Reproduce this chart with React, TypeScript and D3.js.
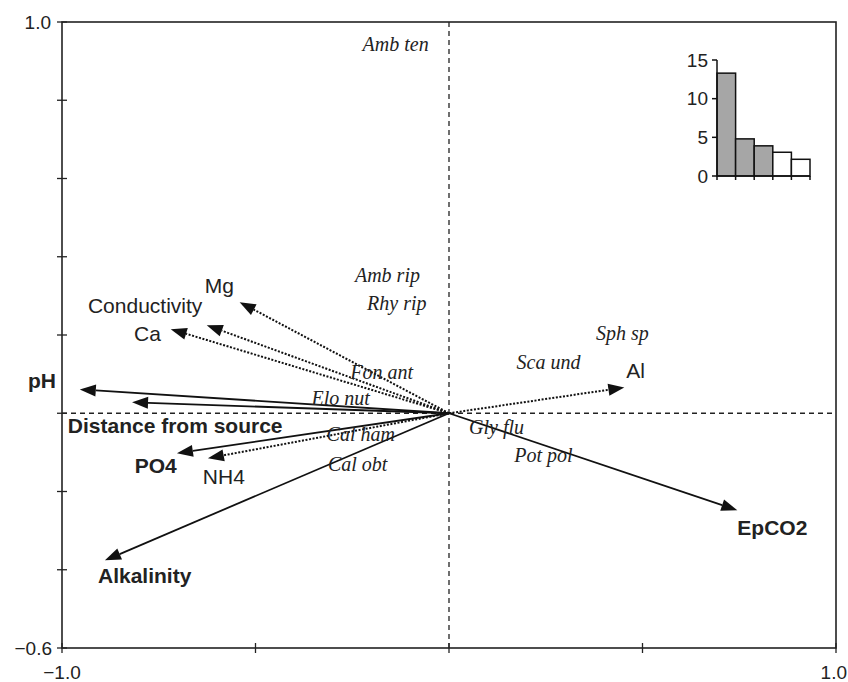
import * as d3 from "d3";

// environmental vectors (biplot scores), solid = significant
const envNames = ["pH", "Distance from source", "PO4", "NH4", "Alkalinity", "Mg", "Conductivity", "Ca", "Al", "EpCO2"];
const envX = [-0.954, -0.819, -0.703, -0.623, -0.889, -0.541, -0.626, -0.719, 0.453, 0.745];
const envY = [0.061, 0.028, -0.102, -0.115, -0.376, 0.284, 0.225, 0.215, 0.066, -0.248];
const envSolid = [true, true, true, false, true, false, false, false, false, true];
// where each variable's label sits (data units)
const envLabelX = [-1.088, -0.985, -0.812, -0.636, -0.907, -0.631, -0.933, -0.814, 0.458, 0.745];
const envLabelY = [0.064, -0.051, -0.153, -0.181, -0.435, 0.307, 0.256, 0.184, 0.089, -0.31];

// species scores
const spNames = ["Amb ten", "Amb rip", "Rhy rip", "Fon ant", "Elo nut", "Cal ham", "Cal obt", "Sph sp", "Sca und", "Gly flu", "Pot pol"];
const spX = [-0.138, -0.159, -0.135, -0.174, -0.28, -0.228, -0.236, 0.448, 0.257, 0.123, 0.244];
const spY = [0.943, 0.353, 0.281, 0.105, 0.038, -0.054, -0.13, 0.204, 0.13, -0.036, -0.107];

// inset: eigenvalue histogram
const eigen = [13.3, 4.8, 3.9, 3.07, 2.16];
const eigenTicks = [0, 5, 10, 15];

const W = 848;
const H = 682;
const M = { left: 62, right: 836, top: 22, bottom: 648 };

const SANS = "'Liberation Sans', Arial, sans-serif";
const SERIF = "'Liberation Serif', 'Times New Roman', serif";

export default function App() {
  const x = d3.scaleLinear().domain([-1, 1]).range([M.left, M.right]);
  const y = d3.scaleLinear().domain([-0.6, 1]).range([M.bottom, M.top]);
  const yTicks = d3.range(-0.6, 1.0001, 0.2);
  const xTicks = d3.range(-1, 1.0001, 0.5);

  const arrows = envNames.map((name, i) => {
    const x0 = x(0), y0 = y(0);
    const x1 = x(envX[i]), y1 = y(envY[i]);
    const len = Math.hypot(x1 - x0, y1 - y0);
    const ux = (x1 - x0) / len, uy = (y1 - y0) / len;
    const headL = 16, headW = 6;
    const bx = x1 - ux * headL, by = y1 - uy * headL;
    const head = [
      [x1, y1],
      [bx - uy * headW, by + ux * headW],
      [bx + uy * headW, by - ux * headW],
    ];
    return { name, x0, y0, bx, by, head, solid: envSolid[i], i };
  });

  // inset scales
  const ix = d3.scaleBand<number>().domain(d3.range(eigen.length)).range([717, 810]).padding(0);
  const iy = d3.scaleLinear().domain([0, 15]).range([176, 60]);

  return (
    <svg width={W} height={H} style={{ position: "absolute", left: 0, top: 0, background: "#fff" }}>
      {/* dashed zero lines */}
      <line x1={x(0)} x2={x(0)} y1={M.top} y2={M.bottom} stroke="#222" strokeWidth={1.3} strokeDasharray="5,4" />
      <line x1={M.left} x2={M.right} y1={y(0)} y2={y(0)} stroke="#222" strokeWidth={1.3} strokeDasharray="5,4" />

      {/* frame */}
      <rect x={M.left} y={M.top} width={M.right - M.left} height={M.bottom - M.top} fill="none" stroke="#222" strokeWidth={1.6} />
      {yTicks.map((t, k) => (
        <line key={"yt" + k} x1={M.left - 5} x2={M.left + 5} y1={y(t)} y2={y(t)} stroke="#222" strokeWidth={1.3} />
      ))}
      {xTicks.map((t, k) => (
        <line key={"xt" + k} x1={x(t)} x2={x(t)} y1={M.bottom - 5} y2={M.bottom + 5} stroke="#222" strokeWidth={1.3} />
      ))}
      <g fontFamily={SANS} fontSize={19} fill="#222">
        <text x={M.left - 11} y={y(1)} dy="0.35em" textAnchor="end">1.0</text>
        <text x={M.left - 10} y={y(-0.6)} dy="0.35em" textAnchor="end">−0.6</text>
        <text x={x(-1)} y={M.bottom + 31} textAnchor="middle">−1.0</text>
        <text x={W - 1} y={M.bottom + 31} textAnchor="end">1.0</text>
      </g>

      {/* environmental arrows */}
      {arrows.map((a) => (
        <g key={a.name}>
          <line x1={a.x0} y1={a.y0} x2={a.bx} y2={a.by} stroke="#111" strokeWidth={a.solid ? 1.8 : 2}
            strokeDasharray={a.solid ? undefined : "2,1.6"} />
          <polygon points={a.head.map((p) => p.join(",")).join(" ")} fill="#111" />
          <text x={x(envLabelX[a.i])} y={y(envLabelY[a.i])} fontFamily={SANS} fontSize={21}
            fontWeight={a.solid ? "bold" : "normal"} fill="#222">{a.name}</text>
        </g>
      ))}

      {/* species */}
      <g fontFamily={SERIF} fontStyle="italic" fontSize={20} fill="#222">
        {spNames.map((s, i) => (
          <text key={s} x={x(spX[i])} y={y(spY[i])} dy="0.35em" textAnchor="middle">{s}</text>
        ))}
      </g>

      {/* inset histogram */}
      <g>
        {eigen.map((v, i) => (
          <rect key={i} x={ix(i)} y={iy(v)} width={ix.bandwidth()} height={iy(0) - iy(v)}
            fill={i < 3 ? "#a6a6a6" : "#fff"} stroke="#111" strokeWidth={1.5} />
        ))}
        <line x1={717} x2={717} y1={iy(15)} y2={iy(0)} stroke="#111" strokeWidth={1.5} />
        <line x1={717} x2={810} y1={iy(0)} y2={iy(0)} stroke="#111" strokeWidth={1.5} />
        {eigenTicks.map((t) => (
          <g key={t}>
            <line x1={712} x2={717} y1={iy(t)} y2={iy(t)} stroke="#111" strokeWidth={1.5} />
            <text x={708} y={iy(t)} dy="0.35em" textAnchor="end" fontFamily={SANS} fontSize={19} fill="#222">{t}</text>
          </g>
        ))}
        {d3.range(eigen.length + 1).map((k) => (
          <line key={k} x1={717 + k * ix.step()} x2={717 + k * ix.step()} y1={iy(0)} y2={iy(0) + 4} stroke="#111" strokeWidth={1.5} />
        ))}
      </g>
    </svg>
  );
}
